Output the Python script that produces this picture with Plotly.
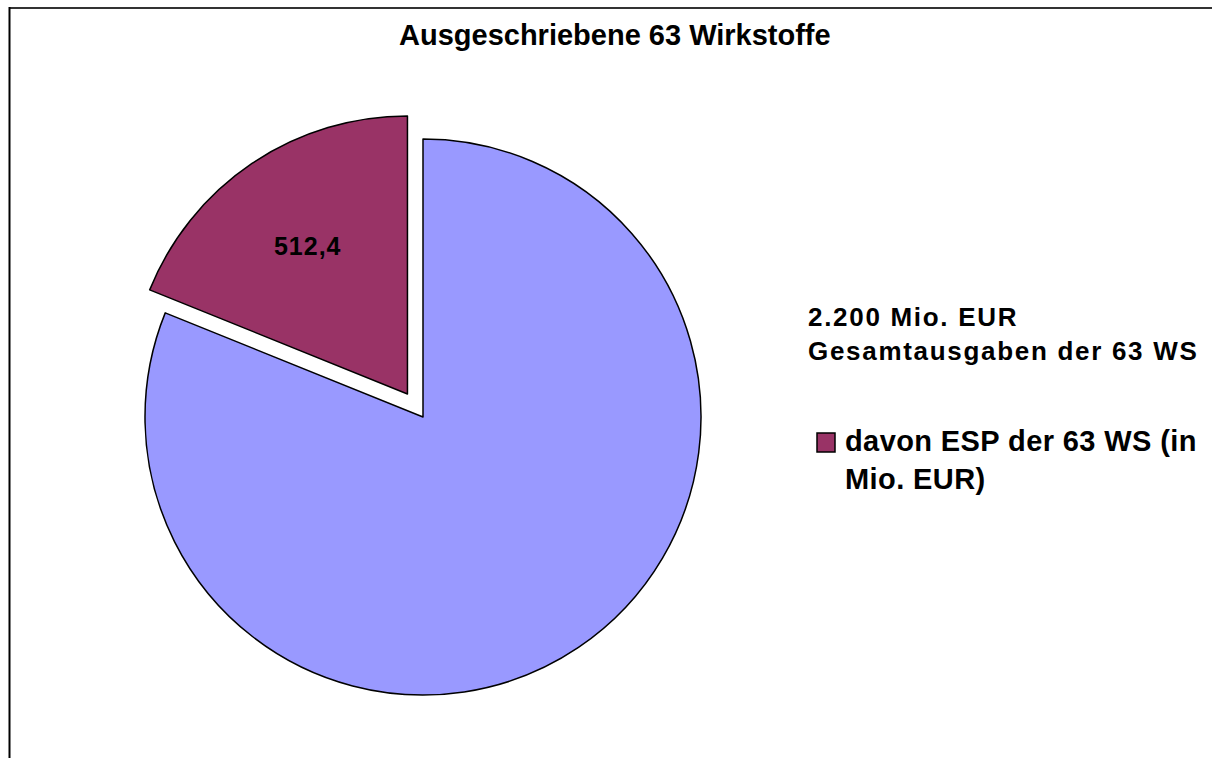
import plotly.graph_objects as go

# Data
categories = ["2.200 Mio. EUR Gesamtausgaben der 63 WS", "davon ESP der 63 WS (in Mio. EUR)"]
values = [2200.0, 512.4]
labels_text = ["", '<span style="letter-spacing:1px">512,4</span>']
colors = ["#9999FF", "#993366"]
title_text = "Ausgeschriebene 63 Wirkstoffe"

W, H = 1212, 758
cx, cy, r, pull = 423, 417, 278, 0.1
half = r * (1 + pull)

fig = go.Figure()
fig.add_trace(go.Pie(
    labels=categories,
    values=values,
    text=labels_text,
    textinfo="text",
    textposition="inside",
    insidetextorientation="horizontal",
    textfont=dict(family="Liberation Sans", size=25, color="black", weight="bold"),
    marker=dict(colors=colors, line=dict(color="black", width=1.5)),
    pull=[0, pull],
    sort=False,
    direction="clockwise",
    rotation=0,
    showlegend=False,
    hoverinfo="label+value",
    domain=dict(x=[(cx - half) / W, (cx + half) / W],
                y=[(H - cy - half) / H, (H - cy + half) / H]),
))

font_b = dict(family="Liberation Sans", color="black", weight="bold")

annotations = [
    dict(x=615 / W, y=1 - 35 / H, xref="paper", yref="paper", text=title_text,
         showarrow=False, xanchor="center", yanchor="middle", font=dict(size=29, **font_b)),
    dict(x=806 / W, y=1 - 334 / H, xref="paper", yref="paper",
         text='<span style="letter-spacing:1.7px">2.200 Mio. EUR<br>Gesamtausgaben der 63 WS</span>',
         showarrow=False, xanchor="left", yanchor="middle", align="left",
         font=dict(size=26, **font_b)),
    dict(x=843 / W, y=1 - 460 / H, xref="paper", yref="paper",
         text='<span style="letter-spacing:0.4px">davon ESP der 63 WS (in<br>Mio. EUR)</span>',
         showarrow=False, xanchor="left", yanchor="middle", align="left",
         font=dict(size=29, **font_b)),
]

shapes = [
    dict(type="rect", xref="paper", yref="paper", x0=817 / W, x1=835 / W,
         y0=1 - 452 / H, y1=1 - 433 / H, fillcolor=colors[1],
         line=dict(color="black", width=1.5)),
    dict(type="line", xref="paper", yref="paper", x0=9 / W, x1=1, y0=1 - 8 / H, y1=1 - 8 / H,
         line=dict(color="#333333", width=2)),
    dict(type="line", xref="paper", yref="paper", x0=9.5 / W, x1=9.5 / W, y0=0, y1=1 - 7 / H,
         line=dict(color="black", width=2)),
]

fig.update_layout(
    width=W, height=H,
    margin=dict(l=0, r=0, t=0, b=0),
    paper_bgcolor="white", plot_bgcolor="white",
    annotations=annotations, shapes=shapes,
    showlegend=False,
)

fig.write_html("out.html",
               config={"displayModeBar": False},
               post_script="document.body.style.margin='0';document.body.style.overflow='hidden';")
